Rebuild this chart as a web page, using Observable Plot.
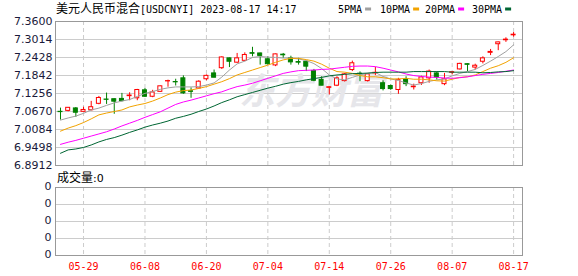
<!DOCTYPE html>
<html><head><meta charset="utf-8">
<script src="https://cdn.jsdelivr.net/npm/d3@7"></script>
<script src="https://cdn.jsdelivr.net/npm/@observablehq/plot@0.6"></script>
<style>
body{margin:0;background:#fff;}
#wrap{position:relative;width:578px;height:276px;overflow:hidden;background:#fff}
#wrap > svg{position:absolute;left:0}
</style></head><body><div id="wrap"></div>
<script>
const dates = ["05-24","05-25","05-26","05-29","05-30","05-31","06-01","06-02","06-05","06-06",
"06-07","06-08","06-09","06-12","06-13","06-14","06-15","06-16","06-19","06-20",
"06-21","06-26","06-27","06-28","06-29","06-30","07-03","07-04","07-05","07-06",
"07-07","07-10","07-11","07-12","07-13","07-14","07-17","07-18","07-19","07-20",
"07-21","07-24","07-25","07-26","07-27","07-28","07-31","08-01","08-02","08-03",
"08-04","08-07","08-08","08-09","08-10","08-11","08-14","08-15","08-16","08-17"];
const open = [7.066,7.069,7.077,7.066,7.071,7.092,7.106,7.107,7.108,7.117,
7.110,7.136,7.115,7.131,7.165,7.163,7.175,7.133,7.142,7.172,
7.191,7.208,7.240,7.226,7.232,7.257,7.256,7.237,7.217,7.252,
7.240,7.228,7.229,7.199,7.170,7.144,7.151,7.166,7.202,7.190,
7.166,7.191,7.159,7.150,7.137,7.172,7.146,7.159,7.175,7.191,
7.156,7.193,7.204,7.221,7.210,7.229,7.258,7.286,7.299,7.315];
const high = [7.078,7.080,7.080,7.081,7.100,7.116,7.127,7.108,7.126,7.128,
7.139,7.142,7.136,7.150,7.169,7.172,7.183,7.144,7.167,7.186,
7.202,7.245,7.241,7.256,7.258,7.276,7.257,7.245,7.254,7.256,
7.247,7.240,7.231,7.204,7.180,7.148,7.180,7.191,7.231,7.196,
7.191,7.211,7.167,7.153,7.175,7.180,7.156,7.182,7.202,7.196,
7.191,7.197,7.224,7.222,7.221,7.245,7.269,7.293,7.307,7.324];
const low = [7.039,7.066,7.048,7.066,7.069,7.089,7.090,7.058,7.098,7.102,
7.102,7.113,7.112,7.130,7.146,7.150,7.123,7.110,7.140,7.167,
7.177,7.204,7.210,7.224,7.229,7.245,7.218,7.218,7.213,7.240,
7.218,7.218,7.197,7.164,7.151,7.121,7.148,7.163,7.197,7.164,
7.163,7.184,7.134,7.136,7.123,7.148,7.137,7.152,7.159,7.169,
7.151,7.186,7.202,7.197,7.202,7.222,7.249,7.265,7.292,7.309];
const close = [7.065,7.079,7.063,7.072,7.081,7.111,7.105,7.099,7.101,7.119,
7.137,7.115,7.129,7.149,7.166,7.162,7.126,7.131,7.164,7.183,
7.177,7.243,7.229,7.240,7.251,7.255,7.248,7.221,7.253,7.250,
7.227,7.226,7.213,7.167,7.151,7.146,7.175,7.188,7.224,7.188,
7.188,7.193,7.140,7.140,7.170,7.156,7.148,7.178,7.197,7.178,
7.172,7.195,7.222,7.219,7.216,7.240,7.261,7.292,7.301,7.317];
const ma5 = [7.039,7.046,7.052,7.061,7.072,7.078,7.087,7.095,7.101,7.106,
7.116,7.126,7.132,7.139,7.144,7.147,7.147,7.147,7.148,7.153,
7.160,7.179,7.202,7.222,7.231,7.243,7.246,7.244,7.243,7.241,
7.241,7.238,7.233,7.223,7.207,7.186,7.173,7.170,7.178,7.186,
7.191,7.194,7.181,7.173,7.168,7.160,7.153,7.158,7.165,7.170,
7.173,7.183,7.191,7.197,7.204,7.217,7.231,7.246,7.262,7.284];
const ma10 = [7.003,7.013,7.021,7.031,7.043,7.056,7.062,7.067,7.072,7.082,
7.088,7.093,7.101,7.111,7.122,7.130,7.135,7.137,7.142,7.148,
7.156,7.164,7.174,7.186,7.194,7.202,7.210,7.218,7.227,7.235,
7.240,7.240,7.236,7.231,7.221,7.208,7.197,7.195,7.191,7.184,
7.180,7.180,7.177,7.173,7.173,7.175,7.172,7.172,7.170,7.167,
7.166,7.172,7.178,7.180,7.186,7.197,7.208,7.216,7.227,7.242];
const ma20 = [6.960,6.967,6.973,6.980,6.987,6.994,7.001,7.010,7.020,7.029,
7.038,7.048,7.057,7.066,7.078,7.090,7.098,7.104,7.111,7.118,
7.125,7.131,7.140,7.148,7.153,7.159,7.167,7.175,7.183,7.191,
7.196,7.200,7.201,7.202,7.204,7.205,7.208,7.211,7.214,7.215,
7.215,7.213,7.208,7.202,7.196,7.189,7.184,7.181,7.179,7.178,
7.176,7.175,7.177,7.180,7.184,7.188,7.191,7.194,7.198,7.202];
const ma30 = [6.931,6.942,6.945,6.950,6.958,6.968,6.976,6.982,6.990,6.999,
7.007,7.016,7.023,7.029,7.036,7.045,7.051,7.058,7.067,7.075,
7.085,7.096,7.105,7.115,7.122,7.129,7.136,7.143,7.149,7.156,
7.161,7.165,7.170,7.174,7.178,7.183,7.186,7.188,7.190,7.191,
7.192,7.194,7.195,7.195,7.195,7.195,7.197,7.197,7.197,7.197,
7.197,7.195,7.195,7.195,7.195,7.193,7.194,7.196,7.197,7.200];
const yTicks = [7.3600,7.3014,7.2428,7.1842,7.1256,7.0670,7.0084,6.9498,6.8912];
const xTickLabels = ["05-29","06-08","06-20","07-04","07-14","07-26","08-07","08-17"];
const volTicks = [0,1,2,3,4];
const volTickLabel = "0";
const maNames = ["5PMA","10PMA","20PMA","30PMA"];
const titleCn = "美元人民币混合";
const titleEn = "[USDCNYI] 2023-08-17 14:17";
const volLabelCn = "成交量";
const volLabelVal = ":0";
const watermark = "东方财富";

const maColors = {"5PMA":"#a0a0a0","10PMA":"#f2a300","20PMA":"#ff00ff","30PMA":"#006633"};
const UP = "#ff0000", DOWN = "#008000";

const candles = dates.map((d,i)=>({date:d, open:open[i], high:high[i], low:low[i], close:close[i], up: close[i] >= open[i]}));
const maSeries = [ma5,ma10,ma20,ma30].flatMap((arr,k)=>arr.map((v,i)=>({date:dates[i], v, name:maNames[k]})));

const xOpts = {type:"band", domain:dates, paddingInner:0.48, paddingOuter:0.644, align:0.303, axis:null};
const wrap = document.getElementById("wrap");

const main = Plot.plot({
  width:578, height:172, marginTop:21, marginBottom:7, marginLeft:55, marginRight:56,
  style:{fontFamily:"DejaVu Sans", fontSize:"11px", background:"transparent"},
  x:xOpts,
  y:{domain:[6.8912,7.36], axis:null},
  color:{type:"identity"},
  marks:[
    Plot.gridY({ticks:yTicks, stroke:"#cccccc", strokeOpacity:1}),
    Plot.gridX({ticks:xTickLabels, stroke:"#cccccc", strokeOpacity:1, strokeDasharray:"4,3"}),
    Plot.text([watermark], {text:d=>d, frameAnchor:"middle", dx:22, dy:-1, fontSize:36, fontWeight:"bold", fill:"#e6e6ea", fontFamily:"Noto Sans CJK SC", fontStyle:"italic"}),
    Plot.axisY({ticks:yTicks, tickFormat:d=>d.toFixed(4), tickSize:0, tickPadding:3, fill:"#1a1a3a", fontSize:11, fontFamily:"DejaVu Sans"}),
    Plot.ruleX(candles, {x:"date", y1:"low", y2:"high", stroke:d=>d.up?UP:DOWN, strokeWidth:1}),
    Plot.barY(candles, {x:"date", y1:"open", y2:"close", fill:d=>d.up?"#ffffff":DOWN, stroke:d=>d.up?UP:DOWN, strokeWidth:1}),
    Plot.lineY(maSeries, {x:"date", y:"v", z:"name", stroke:d=>maColors[d.name], strokeWidth:1}),
    Plot.frame({stroke:"#999999"})
  ]
});
main.style.top = "0px";
wrap.appendChild(main);

const vol = Plot.plot({
  width:578, height:104, marginTop:15, marginBottom:21, marginLeft:55, marginRight:56,
  style:{fontFamily:"DejaVu Sans", fontSize:"11px", background:"transparent"},
  x:xOpts,
  y:{domain:[0,4], axis:null},
  marks:[
    Plot.gridY({ticks:volTicks, stroke:"#cccccc", strokeOpacity:1}),
    Plot.gridX({ticks:xTickLabels, stroke:"#cccccc", strokeOpacity:1, strokeDasharray:"4,3"}),
    Plot.axisY({ticks:volTicks, tickFormat:()=>volTickLabel, tickSize:0, tickPadding:4, dy:-1.5, fill:"#1a1a3a", fontSize:11, fontFamily:"DejaVu Sans"}),
    Plot.axisX({ticks:xTickLabels, tickSize:0, tickPadding:7, fill:"#ff0000", fontSize:10, fontFamily:"DejaVu Sans Mono"}),
    Plot.frame({stroke:"#999999"})
  ]
});
vol.style.top = "172px";
wrap.appendChild(vol);

// overlay: title, legend, volume label
const ns = "http://www.w3.org/2000/svg";
const ov = d3.create("svg").attr("width",578).attr("height",276)
  .style("position","absolute").style("left","0").style("top","0").style("pointer-events","none");
const t = ov.append("text").attr("x",56).attr("y",13).attr("fill","#000");
t.append("tspan").attr("font-family","Noto Sans CJK SC").attr("font-size",12).text(titleCn);
t.append("tspan").attr("font-family","DejaVu Sans Mono").attr("font-size",10).text(titleEn);
const legX = [338,380,425,472];
maNames.forEach((n,k)=>{
  const tx = ov.append("text").attr("x",legX[k]).attr("y",13).attr("fill","#000")
    .attr("font-family","DejaVu Sans Mono").attr("font-size",10).text(n);
  const w = n.length*6.02;
  ov.append("rect").attr("x",legX[k]+w+3).attr("y",7.5).attr("width",6).attr("height",3).attr("fill",maColors[n]);
});
const vt = ov.append("text").attr("x",57).attr("y",182).attr("fill","#000");
vt.append("tspan").attr("font-family","Noto Sans CJK SC").attr("font-size",12).text(volLabelCn);
vt.append("tspan").attr("font-family","DejaVu Sans").attr("font-size",11).text(volLabelVal);
wrap.appendChild(ov.node());
</script>
</body></html>
